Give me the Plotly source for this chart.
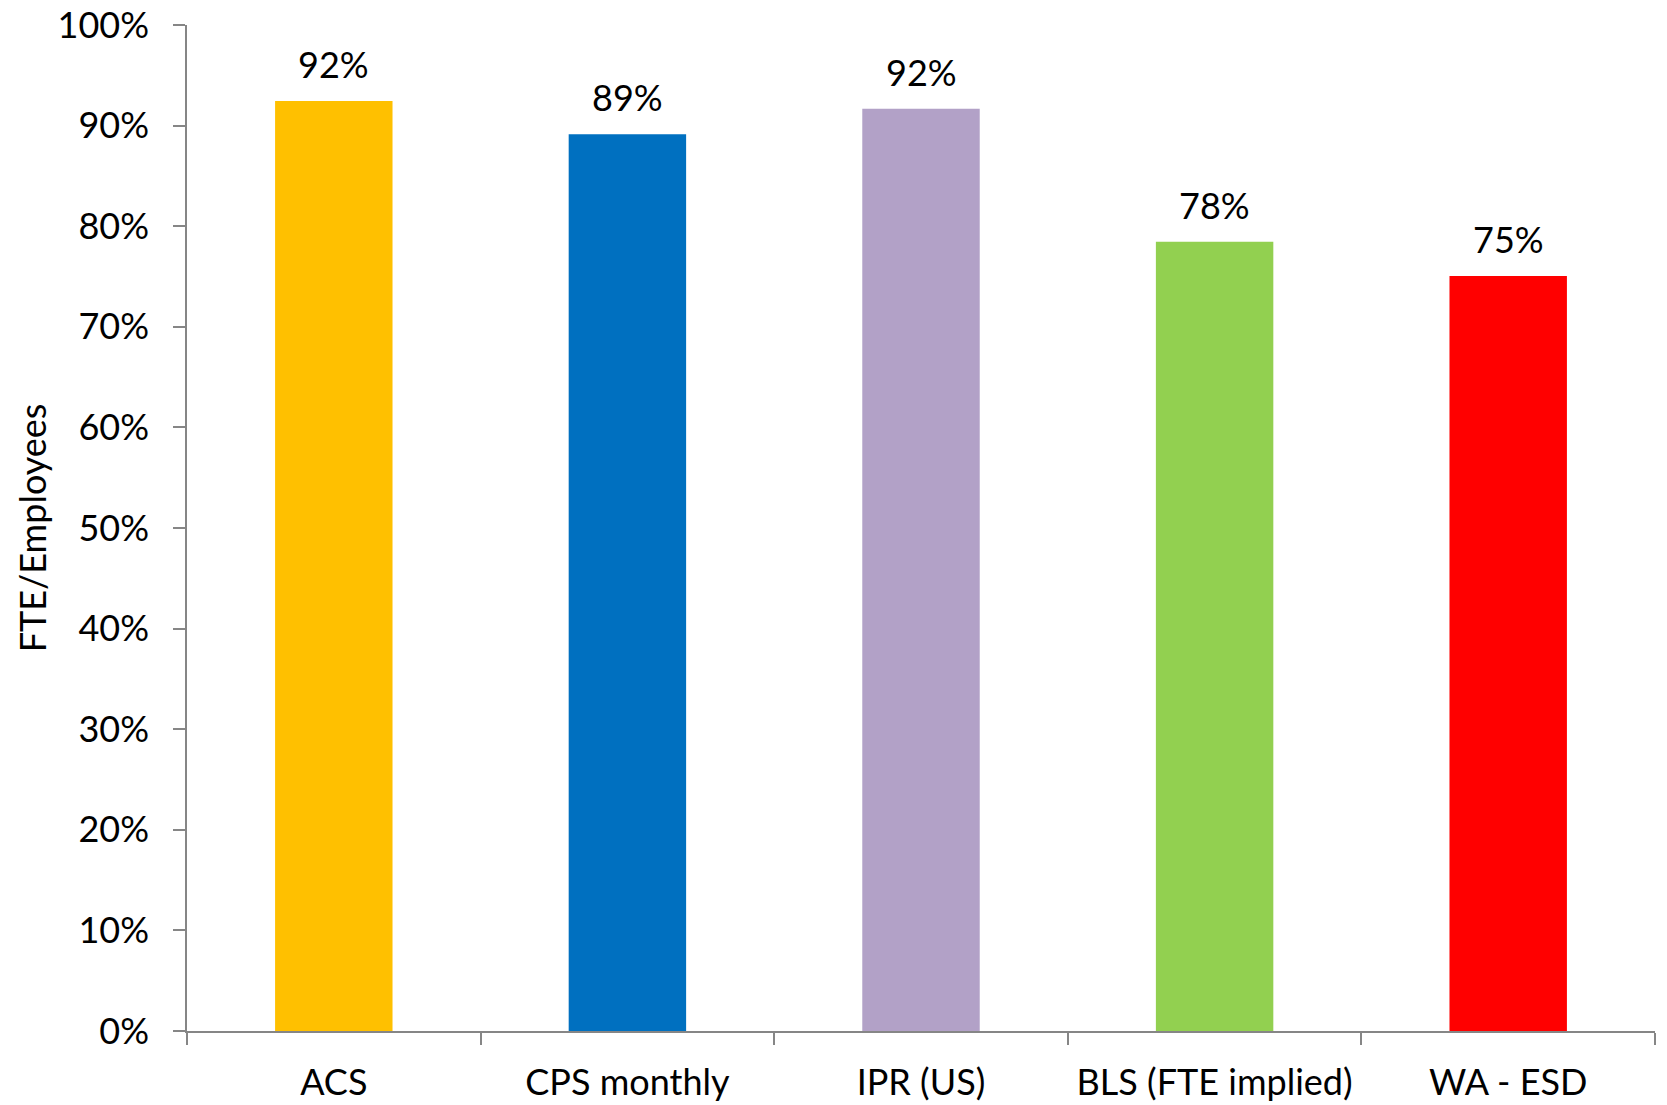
import plotly.graph_objects as go

# Source categories and FTE-to-employee ratios
categories = ["ACS", "CPS monthly", "IPR (US)", "BLS (FTE implied)", "WA - ESD"]
ratios = [0.9245, 0.8914, 0.9168, 0.7845, 0.7505]
bar_colors = ["#FFC000", "#0070C0", "#B2A1C7", "#92D050", "#FF0000"]
y_ticks = [i / 10 for i in range(11)]
y_tick_text = [f"{i * 10}%" for i in range(11)]

FONT = "Lato, 'Open Sans', sans-serif"
FONT_SIZE = 36
AXIS_GREY = "#868686"

fig = go.Figure(
    go.Bar(
        x=categories,
        y=ratios,
        marker=dict(color=bar_colors, line=dict(width=0)),
        width=0.4,
        hoverinfo="x+y",
    )
)

# Value labels above each bar, rounded to whole percent
for cat, val in zip(categories, ratios):
    fig.add_annotation(
        x=cat,
        y=val,
        text=f"{round(val * 100)}%",
        showarrow=False,
        yanchor="bottom",
        yshift=13,
        font=dict(family=FONT, size=FONT_SIZE, color="#000000"),
    )

fig.update_layout(
    width=1667,
    height=1105,
    margin=dict(l=187, r=12, t=25, b=74, autoexpand=False),
    paper_bgcolor="white",
    plot_bgcolor="white",
    showlegend=False,
    font=dict(family=FONT, size=FONT_SIZE, color="#000000"),
)

fig.update_xaxes(
    automargin=False,
    showline=True,
    linecolor=AXIS_GREY,
    linewidth=1.5,
    ticks="outside",
    tickson="boundaries",
    ticklen=12,
    tickwidth=1.5,
    tickcolor=AXIS_GREY,
    showgrid=False,
    zeroline=False,
    tickfont=dict(family=FONT, size=FONT_SIZE, color="#000000"),
    ticklabelstandoff=19,
    ticklabeloverflow="allow",
)

fig.update_yaxes(
    automargin=False,
    range=[0, 1],
    tickvals=y_ticks,
    ticktext=y_tick_text,
    showline=True,
    linecolor=AXIS_GREY,
    linewidth=1.5,
    ticks="outside",
    ticklen=12,
    tickwidth=1.5,
    tickcolor=AXIS_GREY,
    showgrid=False,
    zeroline=False,
    tickfont=dict(family=FONT, size=FONT_SIZE, color="#000000"),
    ticklabelstandoff=17,
    ticklabeloverflow="allow",
    title=dict(
        text="FTE/Employees",
        font=dict(family=FONT, size=FONT_SIZE, color="#000000"),
        standoff=0,
    ),
)

fig.write_html("out.html")
